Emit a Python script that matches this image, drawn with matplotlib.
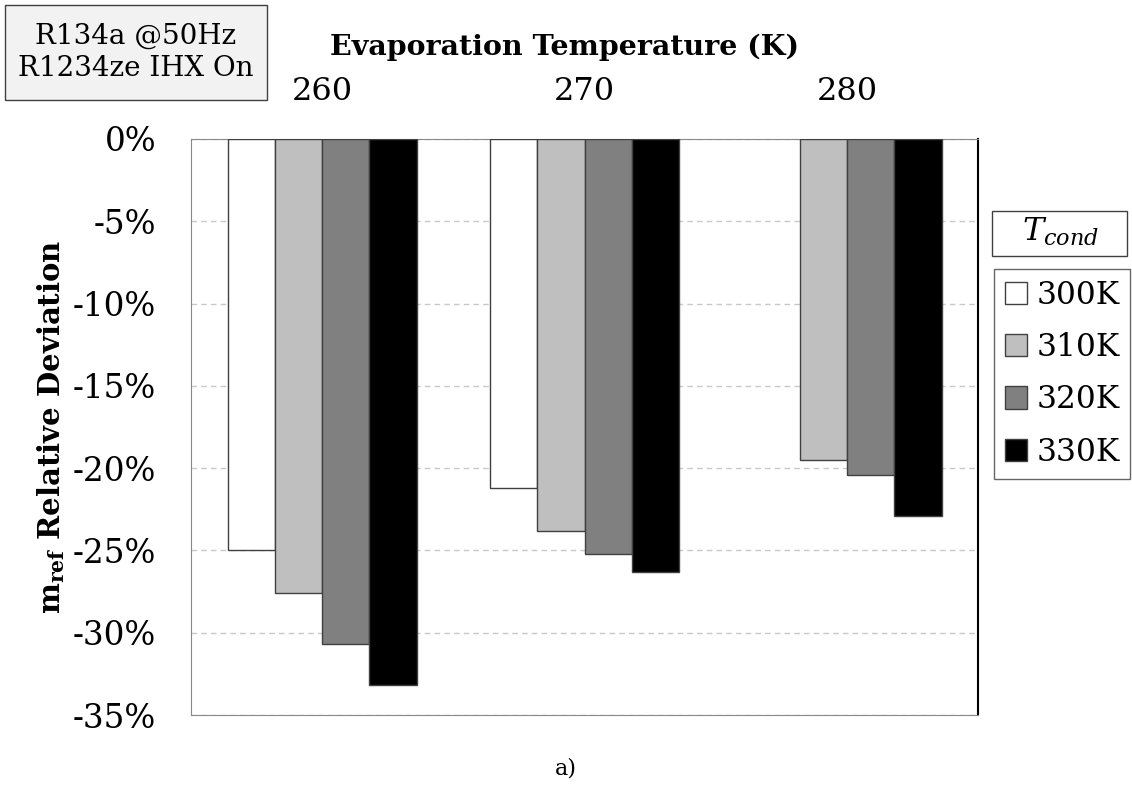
import numpy as np
import matplotlib.pyplot as plt
from matplotlib.patches import Rectangle

plt.rcParams['font.family'] = ['DejaVu Serif']
plt.rcParams['mathtext.fontset'] = 'dejavuserif'

# evaporation temperatures (K) and condensing temperatures
evap_temps = ['260', '270', '280']
cond_labels = ['300K', '310K', '320K', '330K']
dev_300 = [-25.0, -21.2, np.nan]
dev_310 = [-27.6, -23.8, -19.5]
dev_320 = [-30.7, -25.2, -20.4]
dev_330 = [-33.2, -26.3, -22.9]
colors = ['white', '#bfbfbf', '#808080', 'black']

W, H = 1132, 792
fig = plt.figure(figsize=(W / 100, H / 100), dpi=100)
ax = fig.add_axes([0.1687, 0.0972, 0.6955, 0.7273])


def px_box(x0, y0, x1, y1, fc):
    # rectangle given in pixel coords (top-left origin)
    fig.patches.append(Rectangle((x0 / W, 1 - y1 / H), (x1 - x0) / W,
                                 (y1 - y0) / H, transform=fig.transFigure,
                                 facecolor=fc, edgecolor='#404040', lw=1))


x = np.arange(len(evap_temps))
w = 0.18
series = [dev_300, dev_310, dev_320, dev_330]
for i, vals in enumerate(series):
    ax.bar(x + (i - 1.5) * w, vals, w, color=colors[i], edgecolor='#404040',
           linewidth=1, label=cond_labels[i], zorder=3)

ax.set_xlim(-0.5, 2.5)
ax.set_ylim(-35, 0)
ax.set_yticks(np.arange(-35, 1, 5))
ax.set_yticklabels([f'{v}%' for v in range(-35, 1, 5)], fontsize=23.5)
ax.yaxis.grid(True, linestyle=(0, (4, 3)), color='#c8c8c8', linewidth=1, zorder=0)
ax.tick_params(axis='y', length=0, pad=25)

ax.xaxis.tick_top()
ax.set_xticks(x)
ax.set_xticklabels(evap_temps, fontsize=23)
ax.tick_params(axis='x', length=0, pad=23)
ax.xaxis.set_label_position('top')
ax.set_xlabel('Evaporation Temperature (K)', fontsize=20.5, fontweight='bold')
ax.xaxis.set_label_coords(0.475, 1.145)

ax.set_ylabel(r'$\mathbf{m_{ref}}$ Relative Deviation', fontsize=21,
              fontweight='bold')
ax.yaxis.set_label_coords(-0.158, 0.5)

for s in ['left', 'top', 'bottom']:
    ax.spines[s].set_color('#888888')
ax.spines['right'].set_color('black')
ax.spines['right'].set_linewidth(1.5)

leg = fig.legend(loc='upper left', bbox_to_anchor=(994 / W, 1 - 269 / H),
                 fontsize=22.5, frameon=True, fancybox=False, edgecolor='#404040',
                 handlelength=0.72, handleheight=0.72, handletextpad=0.28,
                 borderpad=0.35, labelspacing=0.68, borderaxespad=0)
for h in leg.legend_handles:
    h.set_edgecolor('#404040')

px_box(992, 211, 1127, 256, 'white')
fig.text(1061 / W, 1 - 232 / H, r'$T_{cond}$', fontsize=23,
         ha='center', va='center')

px_box(5, 5, 267, 100, '#f2f2f2')
fig.text(136 / W, 1 - 52 / H, 'R134a @50Hz\nR1234ze IHX On', fontsize=20,
         ha='center', va='center', linespacing=1.25)

fig.text(0.5, 1 - 768 / H, 'a)', fontsize=16, ha='center', va='center')

fig.savefig('out.png', dpi=100)
